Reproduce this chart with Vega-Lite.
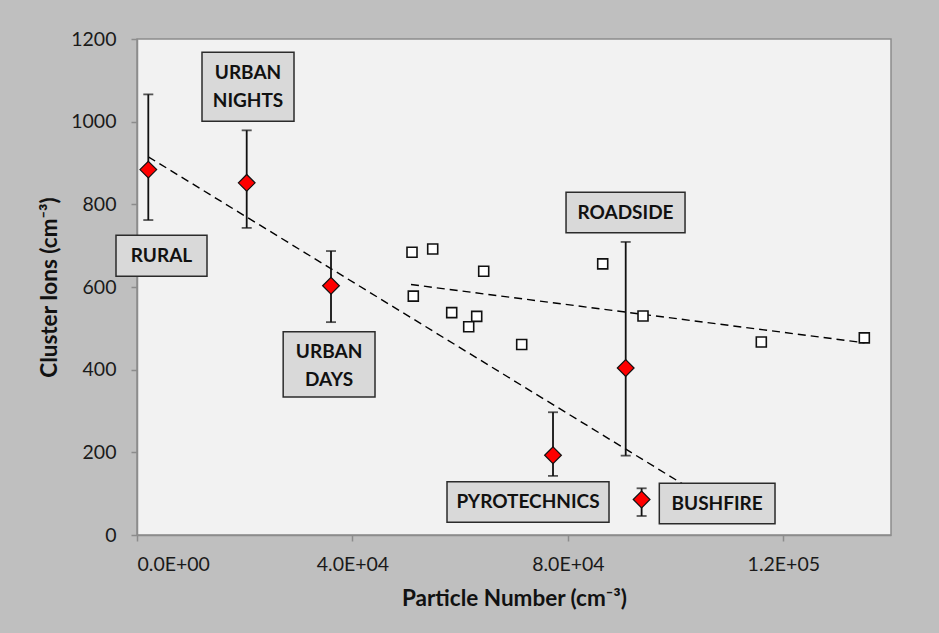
{
  "$schema": "https://vega.github.io/schema/vega-lite/v6.json",
  "width": 754,
  "height": 496,
  "autosize": {"type": "none"},
  "padding": {"left": 137, "top": 39, "right": 48, "bottom": 98},
  "background": "#BFBFBF",
  "config": {
    "view": {"fill": "#F2F2F2", "stroke": "#8C8C8C", "strokeWidth": 1.5},
    "font": "Lato",
    "axis": {
      "grid": false,
      "domainColor": "#8C8C8C",
      "domainWidth": 1.5,
      "tickColor": "#8C8C8C",
      "tickSize": 6,
      "tickWidth": 1.5,
      "labelFont": "Lato",
      "labelFontSize": 19.5,
      "labelColor": "#1A1A1A",
      "titleFont": "Lato",
      "titleFontSize": 22.5,
      "titleFontWeight": "bold",
      "titleColor": "#111111"
    }
  },
  "datasets": {
    "cluster": [
      {"site": "RURAL", "particles": 2098, "ions": 884, "lo": 762, "hi": 1066},
      {"site": "URBAN NIGHTS", "particles": 20369, "ions": 852, "lo": 743, "hi": 979},
      {"site": "URBAN DAYS", "particles": 36022, "ions": 603, "lo": 515, "hi": 687},
      {"site": "PYROTECHNICS", "particles": 77243, "ions": 193, "lo": 143, "hi": 297},
      {"site": "ROADSIDE", "particles": 90741, "ions": 404, "lo": 192, "hi": 709},
      {"site": "BUSHFIRE", "particles": 93696, "ions": 86, "lo": 46, "hi": 113}
    ],
    "ambient": [
      {"particles": 51062, "ions": 684},
      {"particles": 54906, "ions": 692},
      {"particles": 64376, "ions": 638},
      {"particles": 51304, "ions": 578},
      {"particles": 58434, "ions": 538},
      {"particles": 63076, "ions": 529},
      {"particles": 61590, "ions": 504},
      {"particles": 71431, "ions": 461},
      {"particles": 86471, "ions": 656},
      {"particles": 93954, "ions": 530},
      {"particles": 115920, "ions": 467},
      {"particles": 135046, "ions": 477}
    ],
    "trend": [
      {"series": "sites", "particles": 2098, "ions": 915},
      {"series": "sites", "particles": 103000, "ions": 110},
      {"series": "ambient", "particles": 50875, "ions": 606},
      {"series": "ambient", "particles": 135100, "ions": 465}
    ],
    "labels": [
      {"label": "URBAN\nNIGHTS", "x1": 12069, "x2": 29152, "y1": 1001, "y2": 1168, "xc": 20610, "yc": 1117},
      {"label": "RURAL", "x1": -3899, "x2": 12998, "y1": 626, "y2": 725, "xc": 4549, "yc": 676},
      {"label": "URBAN\nDAYS", "x1": 27141, "x2": 44192, "y1": 334, "y2": 492, "xc": 35666, "yc": 442},
      {"label": "ROADSIDE", "x1": 79661, "x2": 101756, "y1": 731, "y2": 829, "xc": 90708, "yc": 780},
      {"label": "PYROTECHNICS", "x1": 57561, "x2": 87641, "y1": 31, "y2": 129, "xc": 72601, "yc": 80},
      {"label": "BUSHFIRE", "x1": 96980, "x2": 118464, "y1": 27, "y2": 125, "xc": 107722, "yc": 76}
    ]
  },
  "layer": [
    {
      "data": {"name": "trend"},
      "mark": {"type": "line", "color": "#000000", "strokeWidth": 1.4, "strokeDash": [8, 5], "clip": false},
      "encoding": {
        "x": {
          "field": "particles", "type": "quantitative",
          "scale": {"domain": [0, 140000], "nice": false, "zero": false},
          "axis": {
            "values": [0, 40000, 80000, 120000],
            "labelExpr": "datum.value == 0 ? '0.0E+00' : datum.value == 40000 ? '4.0E+04' : datum.value == 80000 ? '8.0E+04' : '1.2E+05'",
            "labelPadding": 14,
            "title": "Particle Number (cm⁻³)",
            "titlePadding": 14
          }
        },
        "y": {
          "field": "ions", "type": "quantitative",
          "scale": {"domain": [0, 1200], "nice": false},
          "axis": {
            "values": [0, 200, 400, 600, 800, 1000, 1200],
            "format": "d",
            "labelPadding": 15,
            "title": "Cluster Ions  (cm⁻³)",
            "titlePadding": 9
          }
        },
        "detail": {"field": "series"}
      }
    },
    {
      "data": {"name": "cluster"},
      "mark": {"type": "rule", "color": "#111111", "strokeWidth": 1.8},
      "encoding": {
        "x": {"field": "particles", "type": "quantitative"},
        "y": {"field": "lo", "type": "quantitative"},
        "y2": {"field": "hi"}
      }
    },
    {
      "data": {"name": "cluster"},
      "mark": {"type": "tick", "orient": "horizontal", "color": "#111111", "thickness": 1.8, "size": 10},
      "encoding": {
        "x": {"field": "particles", "type": "quantitative"},
        "y": {"field": "lo", "type": "quantitative"}
      }
    },
    {
      "data": {"name": "cluster"},
      "mark": {"type": "tick", "orient": "horizontal", "color": "#111111", "thickness": 1.8, "size": 10},
      "encoding": {
        "x": {"field": "particles", "type": "quantitative"},
        "y": {"field": "hi", "type": "quantitative"}
      }
    },
    {
      "data": {"name": "cluster"},
      "mark": {"type": "point", "shape": "diamond", "filled": true, "fill": "#FF0000", "stroke": "#111111", "strokeWidth": 1.2, "size": 280, "opacity": 1},
      "encoding": {
        "x": {"field": "particles", "type": "quantitative"},
        "y": {"field": "ions", "type": "quantitative"}
      }
    },
    {
      "data": {"name": "ambient"},
      "mark": {"type": "point", "shape": "square", "filled": true, "fill": "#FFFFFF", "stroke": "#111111", "strokeWidth": 1.6, "size": 100, "opacity": 1},
      "encoding": {
        "x": {"field": "particles", "type": "quantitative"},
        "y": {"field": "ions", "type": "quantitative"}
      }
    },
    {
      "data": {"name": "labels"},
      "mark": {"type": "rect", "fill": "#D9D9D9", "stroke": "#2B2B2B", "strokeWidth": 1.5, "clip": false},
      "encoding": {
        "x": {"field": "x1", "type": "quantitative"},
        "x2": {"field": "x2"},
        "y": {"field": "y1", "type": "quantitative"},
        "y2": {"field": "y2"}
      }
    },
    {
      "data": {"name": "labels"},
      "mark": {"type": "text", "font": "Lato", "fontSize": 19, "fontWeight": "bold", "color": "#111111", "align": "center", "baseline": "middle", "lineBreak": "\n", "lineHeight": 28},
      "encoding": {
        "x": {"field": "xc", "type": "quantitative"},
        "y": {"field": "yc", "type": "quantitative"},
        "text": {"field": "label"}
      }
    }
  ]
}
